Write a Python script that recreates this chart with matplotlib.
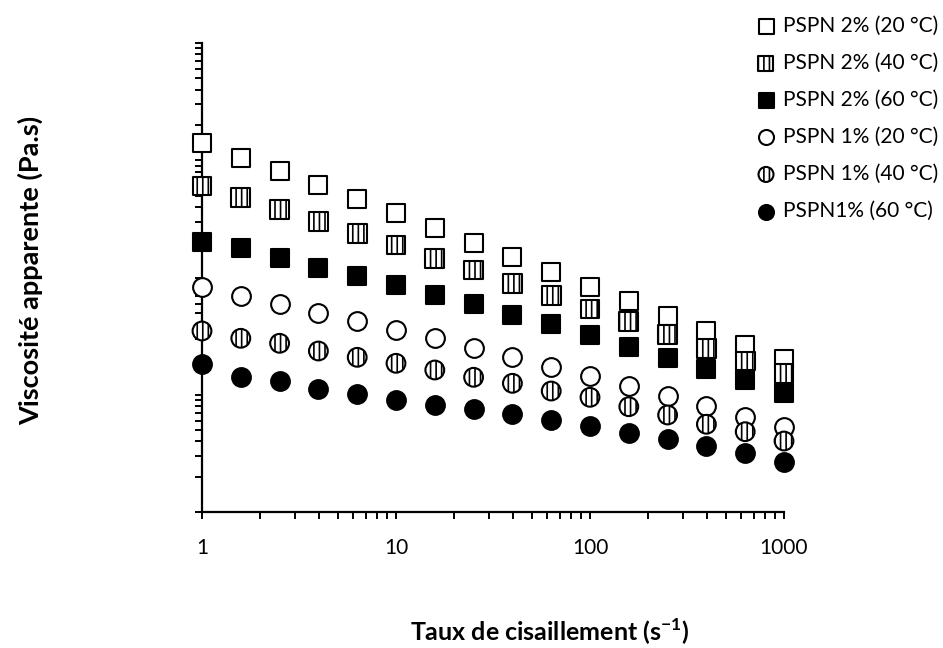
import matplotlib
matplotlib.use("Agg")
import matplotlib.pyplot as plt
from matplotlib.ticker import LogLocator, NullFormatter, FixedLocator, FixedFormatter

plt.rcParams['font.family'] = ['Lato', 'DejaVu Sans']
plt.rcParams['mathtext.fontset'] = 'custom'
plt.rcParams['mathtext.rm'] = 'Lato'
plt.rcParams['mathtext.bf'] = 'Lato:bold'
plt.rcParams['hatch.linewidth'] = 1.2

# Shear rate (s^-1)
shear_rate = [1, 1.585, 2.512, 3.981, 6.310, 10, 15.85, 25.12, 39.81, 63.10,
              100, 158.5, 251.2, 398.1, 631.0, 1000]

# Apparent viscosity (Pa.s)
pspn2_20 = [13.95, 10.51, 8.145, 6.15, 4.67, 3.53, 2.66, 1.98, 1.504, 1.107,
            0.835, 0.630, 0.469, 0.352, 0.2657, 0.2006]
pspn2_40 = [6.03, 4.79, 3.82, 2.99, 2.38, 1.893, 1.458, 1.159, 0.892, 0.6995,
            0.5386, 0.4198, 0.3280, 0.2490, 0.1940, 0.1524]
pspn2_60 = [2.02, 1.774, 1.458, 1.212, 1.030, 0.863, 0.709, 0.591, 0.479, 0.399,
            0.3233, 0.2570, 0.2070, 0.1649, 0.1336, 0.1029]
pspn1_20 = [0.822, 0.695, 0.591, 0.501, 0.4256, 0.3566, 0.3030, 0.2490, 0.2086, 0.1734,
            0.1445, 0.1195, 0.0976, 0.0807, 0.0650, 0.0528]
pspn1_40 = [0.3498, 0.3030, 0.2747, 0.2361, 0.2086, 0.1854, 0.1626, 0.1409, 0.1252, 0.1076,
            0.0951, 0.0791, 0.0672, 0.0560, 0.0484, 0.0403]
pspn1_60 = [0.1818, 0.1425, 0.1310, 0.1119, 0.1009, 0.0902, 0.0818, 0.0751, 0.0685, 0.0609,
            0.0545, 0.0475, 0.0419, 0.0365, 0.0317, 0.0269]

labels = ["PSPN 2% (20 °C)", "PSPN 2% (40 °C)", "PSPN 2% (60 °C)",
          "PSPN 1% (20 °C)", "PSPN 1% (40 °C)", "PSPN1% (60 °C)"]
series = [pspn2_20, pspn2_40, pspn2_60, pspn1_20, pspn1_40, pspn1_60]
markers = ['s', 's', 's', 'o', 'o', 'o']
faces = ['white', 'white', 'black', 'white', 'white', 'black']
hatches = [None, '|||', None, None, '|||', None]

x_ticks = [1, 10, 100, 1000]
x_tick_labels = ['1', '10', '100', '1000']

W, H = 943, 648
fig = plt.figure(figsize=(W / 100, H / 100), dpi=100)
ax = fig.add_axes([202 / W, 1 - 512 / H, 582 / W, 469 / H])

handles = []
for y, lab, m, fc, hc in zip(series, labels, markers, faces, hatches):
    h = ax.scatter(shear_rate, y, s=13.5 ** 2, marker=m, facecolors=fc,
                   edgecolors='black', linewidths=1.5, hatch=hc, clip_on=False,
                   label=lab, zorder=3)
    handles.append(h)

ax.set_xscale('log')
ax.set_yscale('log')
ax.set_xlim(1, 1000)
ax.set_ylim(0.01, 100)

for s in ['top', 'right']:
    ax.spines[s].set_visible(False)
for s in ['left', 'bottom']:
    ax.spines[s].set_linewidth(1.6)

ax.xaxis.set_major_locator(FixedLocator(x_ticks))
ax.xaxis.set_major_formatter(FixedFormatter(x_tick_labels))
ax.xaxis.set_minor_locator(LogLocator(base=10, subs=range(2, 10)))
ax.xaxis.set_minor_formatter(NullFormatter())
ax.yaxis.set_major_locator(LogLocator(base=10, numticks=10))
ax.yaxis.set_minor_locator(LogLocator(base=10, subs=range(2, 10), numticks=10))
ax.yaxis.set_major_formatter(NullFormatter())
ax.yaxis.set_minor_formatter(NullFormatter())

ax.tick_params(axis='both', which='both', direction='out', length=5, width=1.4, color='black')
ax.tick_params(axis='x', which='major', labelsize=15, pad=14)

fig.text(30 / W, 1 - 270 / H, 'Viscosité apparente (Pa.s)', rotation=90,
         ha='center', va='center', fontsize=19.5, fontweight='bold')
fig.text(550 / W, 1 - 632 / H, r'Taux de cisaillement (s$^{\mathbf{-1}}$)',
         ha='center', va='center', fontsize=18, fontweight='bold')

leg = fig.legend(handles=handles, labels=labels, loc='upper left',
                 bbox_to_anchor=(741 / W, 1 - 1 / H), frameon=False,
                 fontsize=15, markerscale=0.8, handletextpad=0.3,
                 handlelength=1.0, labelspacing=0.82, borderpad=0.2)

fig.savefig('out.png', dpi=100)
